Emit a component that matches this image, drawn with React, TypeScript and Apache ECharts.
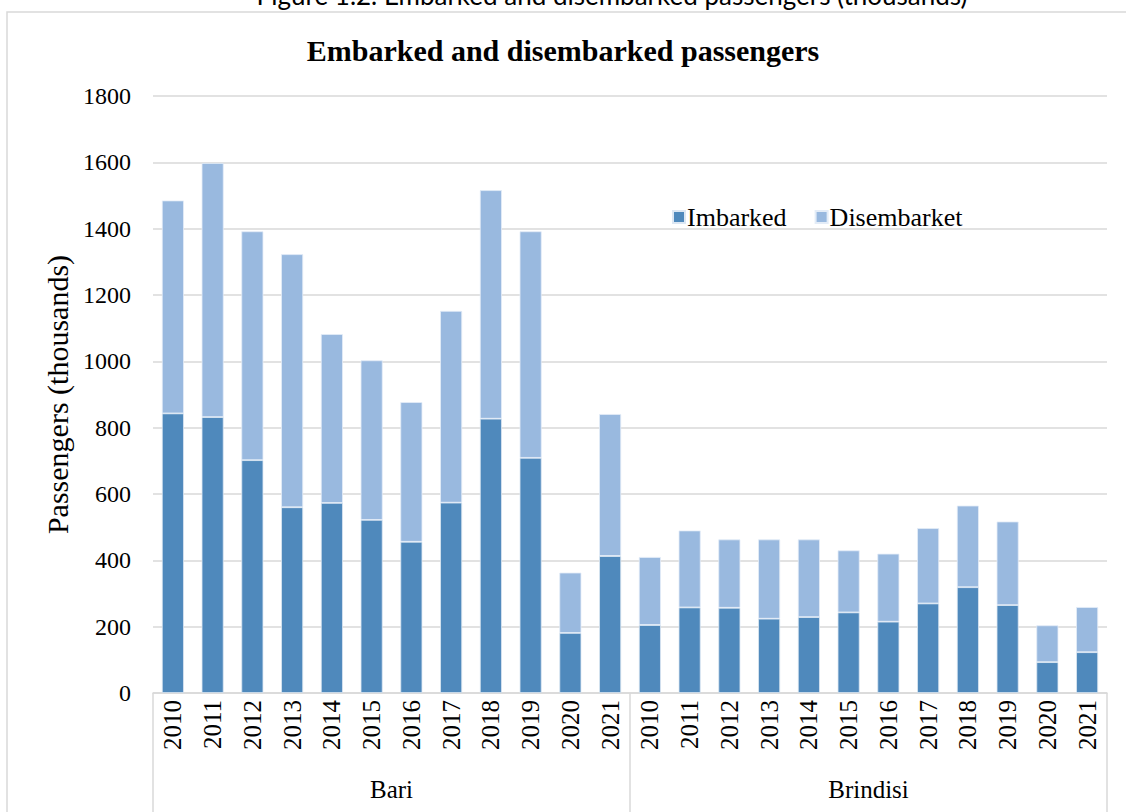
import React, { useEffect, useRef } from "react";
import * as echarts from "echarts";

const years = ["2010", "2011", "2012", "2013", "2014", "2015", "2016", "2017", "2018", "2019", "2020", "2021"];
const ports = ["Bari", "Brindisi"];
const categories = [...years, ...years];

const bariEmbarked = [843, 832, 702, 560, 573, 522, 456, 574, 827, 709, 181, 413];
const bariDisembarked = [642, 766, 690, 763, 509, 481, 421, 578, 689, 683, 182, 428];
const brindisiEmbarked = [205, 258, 257, 224, 229, 243, 215, 270, 319, 265, 93, 123];
const brindisiDisembarked = [205, 232, 206, 239, 234, 187, 205, 227, 246, 252, 111, 136];

const embarked = [...bariEmbarked, ...brindisiEmbarked];
const disembarked = [...bariDisembarked, ...brindisiDisembarked];

const SERIF = "'Liberation Serif', 'Times New Roman', serif";

export default function App() {
  const ref = useRef<HTMLDivElement>(null);
  useEffect(() => {
    if (!ref.current) return;
    const chart = echarts.init(ref.current, null, { renderer: "svg" });
    chart.setOption({
      animation: false,
      backgroundColor: "#ffffff",
      title: {
        text: "Embarked and disembarked passengers",
        left: "center",
        top: 30,
        textStyle: { fontFamily: SERIF, fontSize: 30, fontWeight: "bold", color: "#000" },
      },
      graphic: [
        {
          type: "rect",
          shape: { x: 7, y: 12, width: 1140, height: 820 },
          style: { fill: "none", stroke: "#d9d9d9", lineWidth: 1.5 },
          silent: true,
        },
        {
          type: "text",
          x: 612,
          y: -5,
          style: {
            text: "Figure 1.2. Embarked and disembarked passengers (thousands)",
            fontFamily: "Lato, 'Open Sans', sans-serif",
            fontSize: 26,
            fill: "#000",
            align: "center",
            verticalAlign: "middle",
          },
        },
      ],
      legend: {
        data: ["Imbarked", "Disembarket"],
        left: 667,
        top: 199,
        itemWidth: 12,
        itemHeight: 12,
        itemGap: 28,
        icon: "rect",
        textStyle: { fontFamily: SERIF, fontSize: 26, color: "#000", padding: [0, 0, 0, -3] },
      },
      grid: { left: 153, right: 19, top: 96, bottom: 119, containLabel: false },
      xAxis: [
        {
          type: "category",
          data: categories,
          axisLine: { show: true, lineStyle: { color: "#d9d9d9", width: 1.5 } },
          axisTick: { show: false },
          axisLabel: {
            rotate: 90,
            interval: 0,
            margin: 7,
            fontFamily: SERIF,
            fontSize: 25,
            color: "#000",
          },
        },
        {
          type: "category",
          data: ports,
          position: "bottom",
          axisLine: { show: false },
          axisTick: { show: true, length: 125, interval: 0, lineStyle: { color: "#d9d9d9", width: 1.5 } },
          axisLabel: { margin: 84, fontFamily: SERIF, fontSize: 25, color: "#000", interval: 0 },
        },
      ],
      yAxis: {
        type: "value",
        min: 0,
        max: 1800,
        interval: 200,
        name: "Passengers (thousands)",
        nameLocation: "middle",
        nameGap: 78,
        nameTextStyle: { fontFamily: SERIF, fontSize: 30, color: "#000" },
        axisLine: { show: false },
        axisTick: { show: false },
        axisLabel: {
          margin: 22,
          fontFamily: SERIF,
          fontSize: 24,
          color: "#000",
          formatter: (v: number) => String(v),
        },
        splitLine: { lineStyle: { color: "#d9d9d9", width: 1.5 } },
      },
      series: [
        {
          name: "Imbarked",
          type: "bar",
          stack: "total",
          data: embarked,
          barWidth: 22,
          itemStyle: { color: "#4f89bc", borderColor: "#dce7f3", borderWidth: 0.8 },
        },
        {
          name: "Disembarket",
          type: "bar",
          stack: "total",
          data: disembarked,
          barWidth: 22,
          itemStyle: { color: "#99b9df", borderColor: "#e3ecf7", borderWidth: 0.8 },
        },
      ],
    });
    return () => chart.dispose();
  }, []);
  return <div ref={ref} style={{ width: 1126, height: 812, position: "absolute", left: 0, top: 0 }} />;
}
